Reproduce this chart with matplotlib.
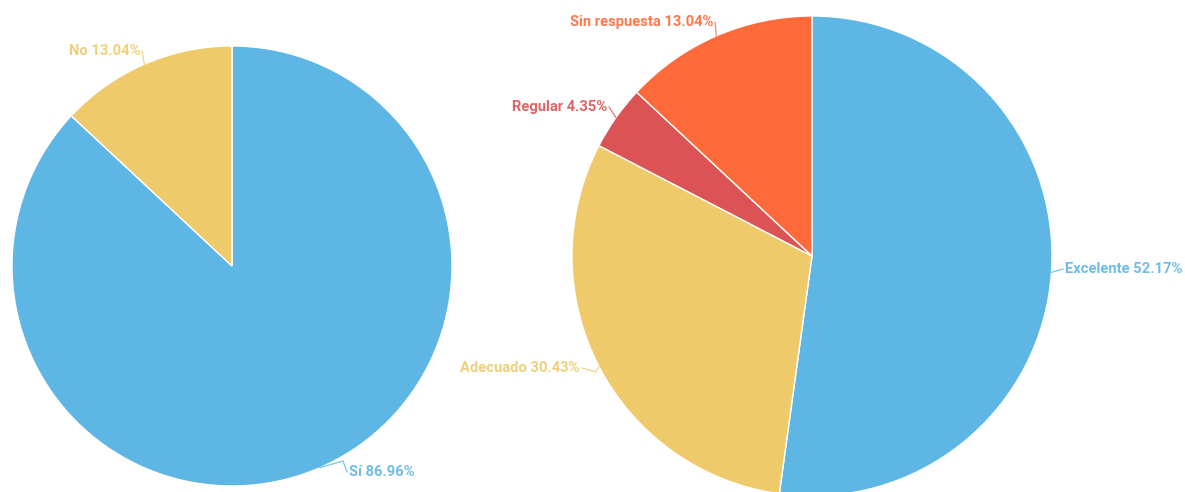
import numpy as np
import matplotlib
matplotlib.use("Agg")
import matplotlib.pyplot as plt

plt.rcParams['font.family'] = ['Roboto', 'DejaVu Sans']

# data
left_labels = ['Sí', 'No']
left_values = [86.96, 13.04]
left_colors = ['#5eb6e4', '#eeca6a']

right_labels = ['Excelente', 'Adecuado', 'Regular', 'Sin respuesta']
right_values = [52.17, 30.43, 4.35, 13.04]
right_colors = ['#5eb6e4', '#eeca6a', '#db5355', '#fe6a39']

W, H = 1185, 492
fig = plt.figure(figsize=(W / 100, H / 100), dpi=100)
ax = fig.add_axes([0, 0, 1, 1])


def draw_pie(cx, cy, r, values, colors, labels, label_pos, elbows):
    # cx, cy in screen pixels (y downward)
    ax.pie(values, colors=colors, startangle=90, counterclock=False,
           center=(cx, H - cy), radius=r,
           wedgeprops=dict(edgecolor='white', linewidth=1.0))
    total = sum(values)
    cum = 0
    for lab, v, c, (tx, ty, ha), elb in zip(labels, values, colors, label_pos, elbows):
        mid = (cum + v / 2) / total * 2 * np.pi
        cum += v
        ex = cx + r * np.sin(mid)
        ey = cy - r * np.cos(mid)
        xs = [ex] + [p[0] for p in elb] + [tx - 2 if ha == 'left' else tx + 2]
        ys = [ey] + [p[1] for p in elb] + [ty]
        ax.plot(xs, [H - y for y in ys], color=c, lw=0.9, alpha=0.8)
        ax.text(tx, H - ty, f"{lab} {v:.2f}%", color=c, ha=ha, va='center',
                fontsize=10.6, fontweight='bold', alpha=0.9)


draw_pie(232, 266, 220, left_values, left_colors, left_labels,
         [(349, 472, 'left'), (140, 51, 'right')],
         [[(343, 461)], []])

draw_pie(812, 256, 240, right_values, right_colors, right_labels,
         [(1065, 269, 'left'), (580, 368, 'right'), (607, 107, 'right'), (713, 22, 'right')],
         [[], [(596, 372)], [], []])

ax.set_xlim(0, W)
ax.set_ylim(0, H)
ax.set_aspect('equal')
ax.axis('off')

fig.savefig('out.png', dpi=100)
